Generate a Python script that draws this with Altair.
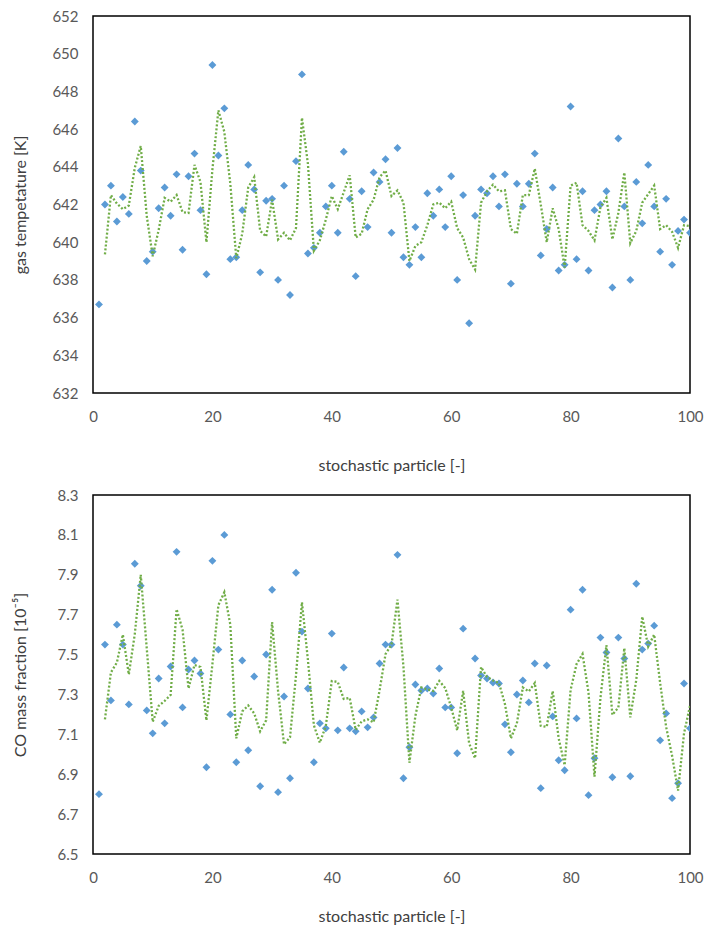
import altair as alt
import pandas as pd

particle = list(range(1, 101))

gas_temperature = [
    636.7, 642.0, 643.0, 641.1, 642.4, 641.5, 646.4, 643.8, 639.0, 639.5,
    641.8, 642.9, 641.4, 643.6, 639.6, 643.5, 644.7, 641.7, 638.3, 649.4,
    644.6, 647.1, 639.1, 639.2, 641.7, 644.1, 642.8, 638.4, 642.2, 642.3,
    638.0, 643.0, 637.2, 644.3, 648.9, 639.4, 639.7, 640.5, 641.9, 643.0,
    640.5, 644.8, 642.3, 638.2, 642.7, 640.8, 643.7, 643.2, 644.4, 640.5,
    645.0, 639.2, 638.8, 640.8, 639.2, 642.6, 641.4, 642.8, 640.8, 643.5,
    638.0, 642.5, 635.7, 641.4, 642.8, 642.6, 643.5, 641.9, 643.6, 637.8,
    643.1, 641.9, 643.1, 644.7, 639.3, 640.7, 642.9, 638.5, 638.8, 647.2,
    639.1, 642.7, 638.5, 641.7, 642.0, 642.7, 637.6, 645.5, 641.9, 638.0,
    643.2, 641.0, 644.1, 641.9, 639.5, 642.3, 638.8, 640.6, 641.2, 640.5,
]

co_fraction = [
    6.80, 7.55, 7.27, 7.65, 7.55, 7.25, 7.955, 7.845, 7.22, 7.105,
    7.38, 7.155, 7.44, 8.015, 7.235, 7.425, 7.47, 7.405, 6.935, 7.97,
    7.525, 8.10, 7.20, 6.96, 7.47, 7.02, 7.39, 6.84, 7.50, 7.825,
    6.81, 7.29, 6.88, 7.91, 7.615, 7.33, 6.96, 7.155, 7.13, 7.605,
    7.12, 7.435, 7.13, 7.115, 7.215, 7.135, 7.185, 7.455, 7.55, 7.55,
    8.00, 6.88, 7.035, 7.35, 7.32, 7.33, 7.305, 7.43, 7.235, 7.235,
    7.005, 7.63, 6.48, 7.48, 7.395, 7.38, 7.36, 7.355, 7.15, 7.01,
    7.30, 7.37, 7.26, 7.455, 6.83, 7.445, 7.19, 6.97, 6.92, 7.725,
    7.18, 7.825, 6.795, 6.98, 7.585, 7.51, 6.885, 7.585, 7.48, 6.89,
    7.855, 7.525, 7.555, 7.645, 7.07, 7.205, 6.78, 6.855, 7.355, 7.13,
]

x_ticks = [0, 20, 40, 60, 80, 100]
temp_ticks = [632, 634, 636, 638, 640, 642, 644, 646, 648, 650, 652]
co_ticks = [6.5, 6.7, 6.9, 7.1, 7.3, 7.5, 7.7, 7.9, 8.1, 8.3]

FONT = "Lato"
BLUE = "#5B9BD5"
GREEN = "#70AD47"
LABEL = "#595959"
TITLE = "#404040"

W = 597


def panel(values, domain, ticks, fmt, ytitle, height, xtitle_y):
    df = pd.DataFrame({"particle": particle, "value": values})
    base = alt.Chart(df)
    xenc = alt.X(
        "particle:Q",
        scale=alt.Scale(domain=[0, 100], nice=False, zero=False),
        axis=alt.Axis(values=x_ticks, title="stochastic particle [-]",
                      titleY=xtitle_y, titleBaseline="middle", labelPadding=16,
                      labelFlush=False),
    )
    yaxis = alt.Axis(values=ticks, format=fmt, title=ytitle, titleX=-73,
                     titleY=height / 2, titleBaseline="middle", titleAlign="center",
                     labelPadding=15, labelFlush=False)
    yscale = alt.Scale(domain=domain, nice=False, zero=False)
    pts = base.mark_point(
        shape="diamond", filled=True, size=62, color=BLUE, opacity=1, clip=True
    ).encode(x=xenc, y=alt.Y("value:Q", scale=yscale, axis=yaxis))
    ma = base.transform_window(
        ma="mean(value)", n="count()", frame=[-1, 0], sort=[{"field": "particle"}]
    ).transform_filter("datum.n == 2").mark_line(
        color=GREEN, strokeWidth=2.3, strokeDash=[2, 2], clip=True
    ).encode(x=xenc, y=alt.Y("ma:Q", scale=yscale, axis=yaxis))
    return alt.layer(pts, ma).properties(width=W, height=height)


top = panel(gas_temperature, [632, 652], temp_ticks, "d", "gas tempetature [K]", 377, 72)
bottom = panel(co_fraction, [6.5, 8.3], co_ticks, ".1f", "CO mass fraction [10⁻⁵]", 359, 62)

chart = alt.vconcat(top, bottom, spacing=13).properties(
    padding={"left": 3, "top": 0, "right": 0, "bottom": 0},
    background="white",
).configure_axis(
    labelFont=FONT, labelFontSize=15, labelColor=LABEL,
    titleFont=FONT, titleFontSize=16, titleColor=TITLE, titleFontWeight="normal",
    grid=False, ticks=False, domain=False,
).configure_view(stroke="#000000", strokeWidth=1.5)

chart.save("out.html", embed_options={"renderer": "svg", "actions": False})
